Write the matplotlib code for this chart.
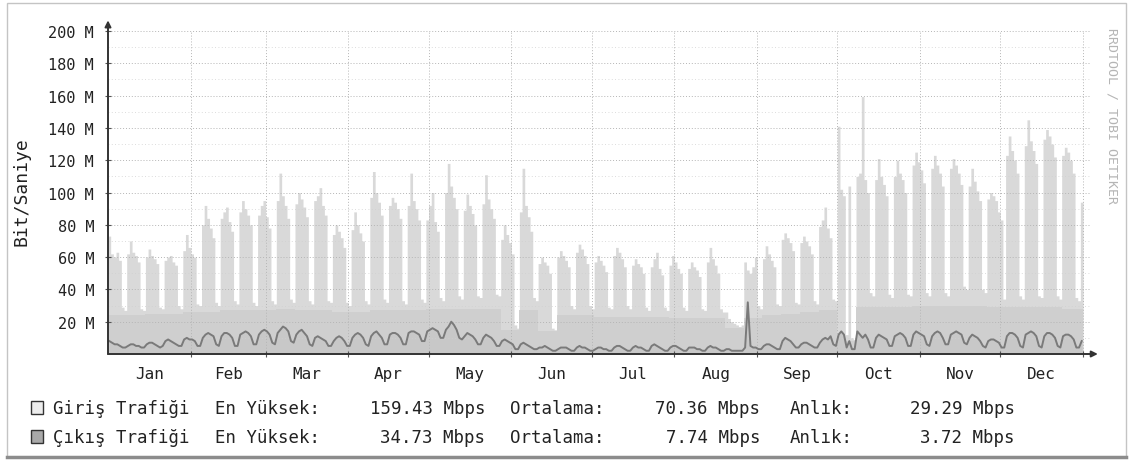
import numpy as np
import matplotlib
matplotlib.use("Agg")
import matplotlib.pyplot as plt
from matplotlib.patches import Rectangle

# ── data (Mbit/s, one value per day, weeks Mon..Sun) ─────────────────────────
MONTHS = ["Jan", "Feb", "Mar", "Apr", "May", "Jun",
          "Jul", "Aug", "Sep", "Oct", "Nov", "Dec"]
MONTH_START = [0, 31, 59, 90, 120, 151, 181, 212, 243, 273, 304, 334, 365]

IN_WEEKS = [
    [73, 62, 60, 63, 58, 29, 27], [62, 70, 63, 61, 57, 28, 27],
    [60, 65, 61, 59, 56, 29, 28], [58, 60, 61, 57, 55, 30, 28],
    [64, 74, 66, 62, 60, 31, 30], [80, 92, 84, 78, 72, 32, 30],
    [84, 88, 91, 82, 76, 33, 31], [88, 95, 90, 86, 80, 32, 30],
    [86, 92, 95, 85, 78, 33, 31], [95, 112, 98, 92, 84, 34, 32],
    [93, 100, 96, 91, 85, 33, 31], [95, 98, 103, 92, 86, 33, 32],
    [74, 80, 76, 72, 66, 32, 30], [77, 88, 80, 75, 70, 33, 31],
    [97, 113, 100, 94, 86, 34, 32], [92, 97, 94, 90, 84, 33, 31],
    [92, 112, 95, 90, 83, 34, 32], [83, 92, 100, 82, 76, 35, 33],
    [100, 118, 104, 97, 90, 36, 34], [89, 99, 92, 87, 80, 36, 35],
    [93, 111, 96, 90, 84, 37, 36], [71, 80, 74, 69, 62, 18, 16],
    [88, 115, 92, 85, 76, 35, 33], [56, 60, 57, 55, 50, 16, 15],
    [60, 64, 61, 58, 54, 30, 28], [63, 68, 65, 61, 56, 30, 28],
    [57, 61, 58, 55, 51, 29, 28], [61, 66, 63, 59, 54, 30, 28],
    [55, 59, 56, 54, 50, 29, 27], [54, 59, 63, 53, 49, 29, 27],
    [55, 61, 57, 53, 50, 29, 27], [53, 57, 54, 52, 48, 28, 27],
    [57, 66, 59, 55, 50, 28, 26], [26, 22, 20, 19, 18, 17, 18],
    [57, 52, 50, 54, 60, 30, 28], [59, 67, 62, 58, 54, 31, 30],
    [71, 75, 72, 69, 64, 32, 31], [69, 73, 70, 67, 62, 33, 31],
    [79, 83, 91, 78, 72, 34, 33], [141, 102, 98, 12, 104, 10, 9],
    [110, 112, 159.4, 108, 100, 38, 36], [108, 121, 110, 105, 98, 37, 35],
    [110, 120, 112, 108, 100, 37, 36], [117, 125, 119, 114, 106, 38, 36],
    [115, 123, 117, 112, 104, 38, 36], [115, 121, 117, 112, 105, 42, 40],
    [104, 115, 107, 101, 95, 40, 38], [96, 100, 98, 95, 88, 83, 34],
    [123, 135, 126, 120, 112, 36, 34], [129, 145, 132, 126, 118, 36, 35],
    [133, 139, 135, 130, 122, 36, 34], [123, 128, 125, 120, 112, 35, 33],
    [94],
]

# lower, denser band of the incoming area (one value per week)
IN_LOW = [24, 24, 25, 25, 26, 26, 27, 27, 27, 28, 27, 27, 26, 26, 27, 27,
          27, 28, 28, 28, 28, 15, 27, 14, 24, 24, 23, 23, 23, 23, 22, 22,
          22, 16, 22, 24, 25, 26, 27, 8, 29, 29, 29, 30, 30, 30, 30, 29,
          29, 29, 29, 28, 28]

OUT_WEEKS = [
    [8, 7, 6, 6, 5, 4, 4], [5, 6, 6, 5, 5, 4, 4],
    [6, 7, 7, 6, 5, 4, 5], [8, 9, 8, 7, 6, 5, 5],
    [9, 10, 9, 9, 8, 5, 5], [10, 12, 13, 12, 11, 6, 5],
    [11, 13, 13, 12, 10, 5, 5], [12, 13, 14, 13, 11, 6, 6],
    [12, 14, 15, 14, 12, 7, 6], [13, 15, 17, 16, 14, 8, 7],
    [12, 14, 15, 13, 11, 6, 5], [10, 11, 10, 9, 8, 5, 5],
    [8, 10, 11, 10, 8, 5, 5], [10, 12, 13, 12, 10, 6, 5],
    [11, 13, 14, 12, 10, 6, 6], [12, 13, 13, 12, 10, 6, 6],
    [13, 14, 14, 13, 12, 8, 8], [14, 15, 16, 15, 14, 10, 10],
    [15, 17, 20, 18, 15, 10, 9], [11, 13, 12, 11, 9, 6, 6],
    [10, 12, 11, 10, 8, 5, 5], [8, 9, 8, 7, 6, 3, 3],
    [6, 7, 6, 5, 4, 3, 3], [4, 4, 5, 4, 3, 2, 2],
    [3, 4, 4, 4, 3, 2, 2], [4, 5, 4, 4, 3, 2, 2],
    [3, 4, 4, 3, 3, 2, 2], [4, 5, 5, 4, 3, 2, 2],
    [4, 5, 4, 4, 3, 2, 2], [5, 6, 5, 4, 3, 2, 2],
    [4, 5, 5, 4, 3, 2, 2], [4, 4, 4, 3, 3, 2, 2],
    [4, 5, 4, 4, 3, 2, 2], [3, 3, 2, 2, 2, 2, 2],
    [4, 32, 5, 4, 4, 3, 3], [5, 6, 6, 5, 4, 3, 3],
    [8, 10, 9, 8, 6, 4, 4], [6, 7, 7, 6, 5, 4, 4],
    [7, 9, 10, 9, 11, 6, 5], [12, 14, 12, 4, 8, 3, 3],
    [14, 12, 10, 12, 9, 4, 4], [10, 12, 11, 10, 9, 5, 5],
    [11, 12, 13, 12, 10, 5, 5], [12, 14, 13, 12, 11, 6, 5],
    [11, 13, 14, 13, 10, 6, 6], [12, 13, 14, 13, 12, 7, 6],
    [10, 12, 11, 10, 8, 5, 4], [8, 9, 9, 8, 7, 4, 4],
    [11, 13, 13, 12, 10, 5, 4], [12, 13, 14, 13, 11, 5, 4],
    [11, 13, 13, 12, 10, 5, 4], [11, 12, 12, 11, 9, 4, 4],
    [8],
]

LEGEND_ROWS = [
    ("Giriş Trafiği", "159.43 Mbps", "70.36 Mbps", "29.29 Mbps"),
    ("Çıkış Trafiği", "34.73 Mbps", "7.74 Mbps", "3.72 Mbps"),
]

COLOR_IN = "#d9d9d9"
COLOR_IN_LOW = "#cfcfcf"
COLOR_OUT = "#7a7a7a"
COLOR_OUT_FILL = "#c8c8c8"
MONO = "DejaVu Sans Mono"

W, H = 1130, 464


def fx(px):
    return px / W


def fy(py):
    return 1 - py / H


# ── figure ────────────────────────────────────────────────────────────────────
fig = plt.figure(figsize=(W / 100, H / 100), dpi=100)
fig.patch.set_facecolor("white")
ax = fig.add_axes([fx(108), fy(355), fx(1090) - fx(108), fy(32) - fy(355)])

in_vals = np.concatenate([np.array(w, float) for w in IN_WEEKS])
out_vals = np.concatenate([np.array(w, float) for w in OUT_WEEKS])
days = np.arange(len(in_vals) + 1)
in_step = np.append(in_vals, in_vals[-1])
ax.fill_between(days, 0, in_step, step="post", color=COLOR_IN, lw=0, zorder=1)

week_x = np.minimum(np.arange(len(IN_LOW) + 1) * 7, len(in_vals))
low_step = np.append(IN_LOW, IN_LOW[-1])
ax.fill_between(week_x, 0, low_step, step="post", color=COLOR_IN_LOW, lw=0, zorder=1.5)

out_days = np.arange(len(out_vals)) + 0.5
ax.fill_between(out_days, 0, out_vals, color=COLOR_OUT_FILL, lw=0, zorder=2)
ax.plot(out_days, out_vals, color=COLOR_OUT, lw=1.4, zorder=3)

ax.set_xlim(0, 367.6)
ax.set_ylim(0, 200)

# ticks and grid
ax.set_xticks(MONTH_START[1:])
ax.set_xticklabels([])
mids = [(a + b) / 2 for a, b in zip(MONTH_START[:-1], MONTH_START[1:])]
ax.set_xticks(mids, minor=True)
ax.set_xticklabels(MONTHS, minor=True, fontsize=11.5, family=MONO, color="#222222")
ax.tick_params(axis="x", which="major", length=4, direction="inout", color="#555555")
ax.tick_params(axis="x", which="minor", length=0, pad=9)

ax.set_yticks(range(20, 201, 20))
ax.set_yticklabels([f"{v} M" for v in range(20, 201, 20)], fontsize=11,
                   family=MONO, color="#222222")
ax.set_yticks(range(10, 200, 20), minor=True)
ax.tick_params(axis="y", which="major", length=4, direction="inout",
               color="#555555", pad=8)
ax.tick_params(axis="y", which="minor", length=0)

ax.set_axisbelow(False)
ax.xaxis.grid(True, which="major", ls=(0, (1, 2)), color="#b5b5b5", lw=0.7)
ax.yaxis.grid(True, which="major", ls=(0, (1, 2)), color="#b5b5b5", lw=0.7)
ax.yaxis.grid(True, which="minor", ls=(0, (1, 3)), color="#d0d0d0", lw=0.6)

for s in ax.spines.values():
    s.set_visible(False)
ax.set_facecolor("none")

# axis arrows
arrow = dict(arrowstyle="-|>", color="#333333", lw=1.4, mutation_scale=9,
             shrinkA=0, shrinkB=0)
ax.annotate("", xy=(0, 1.033), xytext=(0, 0), xycoords="axes fraction",
            textcoords="axes fraction", arrowprops=arrow, annotation_clip=False)
ax.annotate("", xy=(1.008, 0), xytext=(0, 0), xycoords="axes fraction",
            textcoords="axes fraction", arrowprops=arrow, annotation_clip=False)

fig.text(fx(22), fy(192), "Bit/Saniye", rotation=90, ha="center", va="center",
         fontsize=13, family=MONO, color="#222222")
fig.text(fx(1112), fy(28), "RRDTOOL / TOBI OETIKER", rotation=270,
         ha="center", va="top", fontsize=9.5, family=MONO, color="#b5b5b5")

# legend
swatches = ["#ececec", "#a9a9a9"]
for i, (name, mx, avg, cur) in enumerate(LEGEND_ROWS):
    yc = 409 + 29 * i
    fig.patches.append(Rectangle((fx(31), fy(yc + 6)), fx(12), fy(yc - 7) - fy(yc + 6),
                                 transform=fig.transFigure, facecolor=swatches[i],
                                 edgecolor="#333333", lw=1.0))
    kw = dict(va="center", fontsize=12.5, family=MONO, color="#222222")
    fig.text(fx(53), fy(yc), name, ha="left", **kw)
    fig.text(fx(215), fy(yc), "En Yüksek:", ha="left", **kw)
    fig.text(fx(485), fy(yc), mx, ha="right", **kw)
    fig.text(fx(510), fy(yc), "Ortalama:", ha="left", **kw)
    fig.text(fx(760), fy(yc), avg, ha="right", **kw)
    fig.text(fx(790), fy(yc), "Anlık:", ha="left", **kw)
    fig.text(fx(1015), fy(yc), cur, ha="right", **kw)

# frame
fig.patches.append(Rectangle((fx(7), fy(458)), fx(1126) - fx(7), fy(4) - fy(458),
                             transform=fig.transFigure, fill=False,
                             edgecolor="#c4c4c4", lw=1.0))
fig.lines.append(plt.Line2D([fx(7), fx(1126)], [fy(458), fy(458)],
                            transform=fig.transFigure, color="#8c8c8c", lw=2.5))

fig.savefig("out.png", dpi=100, facecolor="white")
